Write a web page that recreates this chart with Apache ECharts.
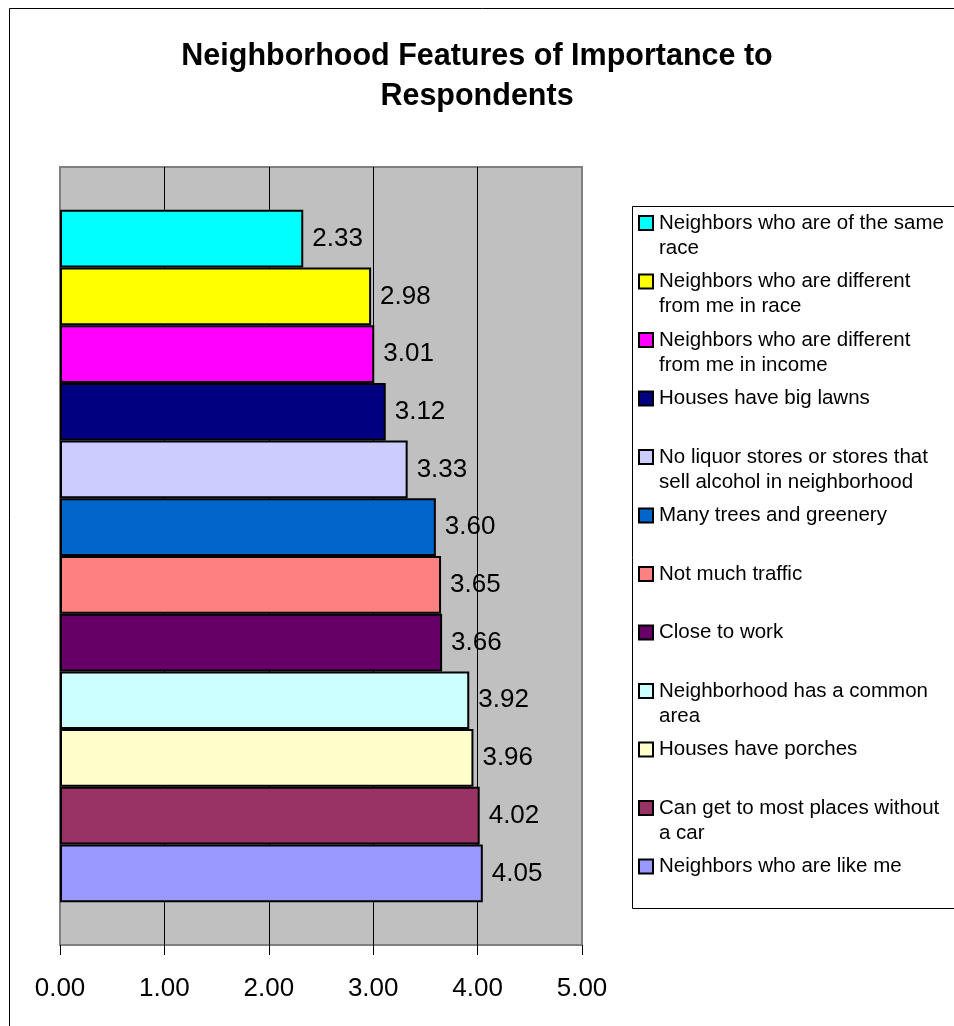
<!DOCTYPE html>
<html>
<head>
<meta charset="utf-8">
<title>Neighborhood Features of Importance to Respondents</title>
<script src="https://cdn.jsdelivr.net/npm/echarts/dist/echarts.min.js"></script>
<style>
  html, body { margin: 0; padding: 0; background: #fff; }
  #chart { width: 954px; height: 1026px; }
</style>
</head>
<body>
<div id="chart"></div>
<script>
// categories (legend text, wrapped as in the picture) and values, top bar first
const categories = [
  'Neighbors who are of the same\nrace',
  'Neighbors who are different\nfrom me in race',
  'Neighbors who are different\nfrom me in income',
  'Houses have big lawns',
  'No liquor stores or stores that\nsell alcohol in neighborhood',
  'Many trees and greenery',
  'Not much traffic',
  'Close to work',
  'Neighborhood has a common\narea',
  'Houses have porches',
  'Can get to most places without\na car',
  'Neighbors who are like me'
];
const values = [2.33, 2.98, 3.01, 3.12, 3.33, 3.60, 3.65, 3.66, 3.92, 3.96, 4.02, 4.05];
const xTicks = [0, 1, 2, 3, 4, 5];

const colors = ['#00FFFF', '#FFFF00', '#FF00FF', '#000080', '#CCCCFF', '#0066CC',
  '#FF8080', '#660066', '#CCFFFF', '#FFFFCC', '#993366', '#9999FF'];
const font = "'Liberation Sans', Arial, sans-serif";

let myChart = echarts.init(document.getElementById('chart'));

// legend swatches drawn as rich-text boxes so they sit on the first line
let rich = {
  sp: { width: 7, height: 12, lineHeight: 25 },
  ind: { width: 19, height: 12, lineHeight: 25 },
  t: { fontSize: 20.5, fontFamily: font, color: '#000', lineHeight: 25, verticalAlign: 'middle' }
};
colors.forEach((c, i) => {
  rich['box' + i] = {
    width: 12, height: 12, lineHeight: 25, verticalAlign: 'middle',
    backgroundColor: c, borderColor: '#000', borderWidth: 2
  };
});

let series = categories.map((name, i) => ({
  name: name,
  type: 'bar',
  barGap: 0,
  barCategoryGap: '11%',
  data: [values[i]],
  itemStyle: { color: colors[i], borderColor: '#000', borderWidth: 2 },
  label: {
    show: true,
    position: 'right',
    distance: 9,
    color: '#000',
    fontSize: 26,
    fontFamily: font,
    formatter: (p) => p.value.toFixed(2)
  }
}));

let option = {
  animation: false,
  backgroundColor: '#fff',
  title: {
    text: 'Neighborhood Features of Importance to\nRespondents',
    left: 'center',
    top: 37,
    padding: 0,
    textStyle: {
      fontSize: 30.5,
      fontWeight: 'bold',
      fontFamily: font,
      color: '#000',
      lineHeight: 40
    }
  },
  grid: {
    left: 60,
    top: 167,
    width: 522,
    height: 778,
    show: true,
    backgroundColor: '#C0C0C0',
    borderColor: '#808080',
    borderWidth: 2
  },
  legend: {
    data: categories,
    orient: 'vertical',
    left: 634,
    top: 210.5,
    padding: 0,
    itemGap: 8.5,
    itemWidth: 0,
    itemHeight: 0,
    selectedMode: false,
    textStyle: { fontSize: 20.5, fontFamily: font, color: '#000', lineHeight: 25, rich: rich },
    formatter: (name) => {
      let i = categories.indexOf(name);
      let lines = name.split('\n');
      let first = '{box' + i + '|}{sp|}{t|' + lines[0] + '}';
      let second = lines.length > 1 ? '{ind|}{t|' + lines[1] + '}' : '{t| }';
      return first + '\n' + second;
    }
  },
  xAxis: {
    type: 'value',
    min: xTicks[0],
    max: xTicks[xTicks.length - 1],
    interval: 1,
    axisLine: { show: false },
    axisTick: { show: true, length: 10, lineStyle: { color: '#000', width: 1 } },
    axisLabel: {
      color: '#000',
      fontSize: 26,
      fontFamily: font,
      margin: 31,
      formatter: (v) => v.toFixed(2)
    },
    splitLine: { show: true, showMinLine: false, showMaxLine: false, lineStyle: { color: '#000', width: 1 } }
  },
  yAxis: {
    type: 'category',
    data: [''],
    axisLine: { show: false },
    axisTick: { show: false },
    axisLabel: { show: false }
  },
  graphic: [
    // outer chart frame and legend frame (run off the right/bottom edge)
    { type: 'rect', silent: true, z: -1, shape: { x: 9.5, y: 8.5, width: 1100, height: 1100 },
      style: { fill: null, stroke: '#000', lineWidth: 1 } },
    { type: 'rect', silent: true, shape: { x: 632.5, y: 206.5, width: 400, height: 702 },
      style: { fill: null, stroke: '#000', lineWidth: 1 } }
  ],
  series: series
};

myChart.setOption(option, true);
</script>
</body>
</html>
